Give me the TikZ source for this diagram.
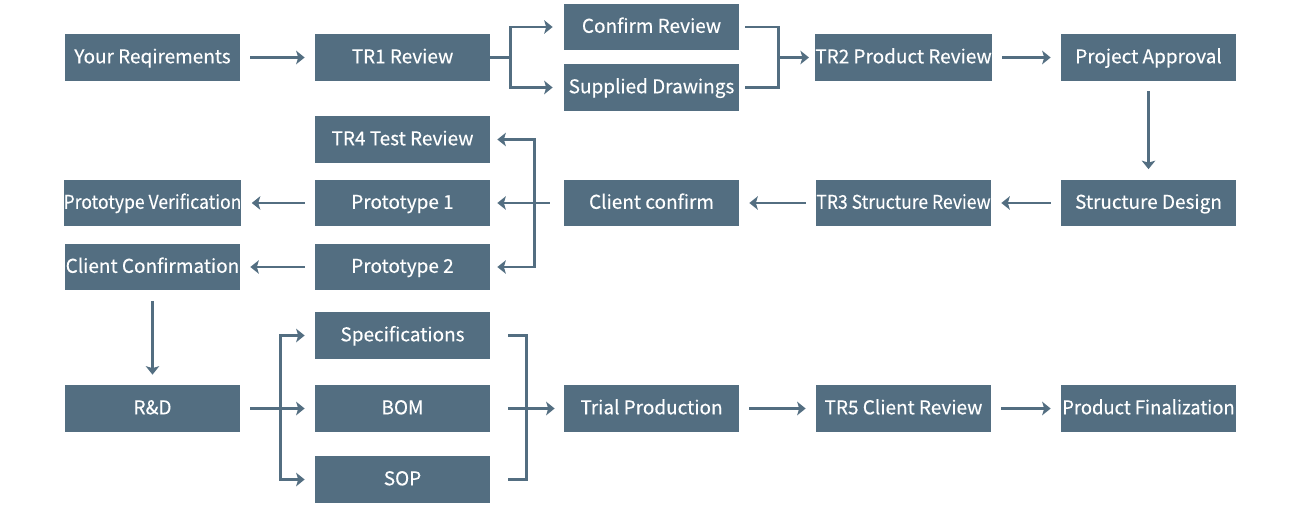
\documentclass[tikz,border=0pt]{standalone}
\usepackage{fontspec}
\setmainfont{Noto Sans CJK SC}[FakeBold=0.3]
\usepackage{xcolor}
\usetikzlibrary{positioning,arrows.meta,calc}
\definecolor{slate}{HTML}{536E81}
\newcommand{\narrow}[2][0.925]{\scalebox{#1}[1]{#2}}

\begin{document}
\begin{tikzpicture}[
  x=0.02cm, y=-0.02cm, font=\fontsize{10.8}{12}\selectfont,
  >={Stealth[length=0.17cm, width=0.27cm, inset=0.04cm]},
  box/.style={fill=slate, text=white, minimum width=3.5cm, minimum height=0.94cm, inner sep=0pt,
    text height=0.66em, text depth=0pt, align=center},
  link/.style={draw=slate, line width=1.7pt},
  arr/.style={link, ->, shorten <=0.2cm, shorten >=0.2cm}]
\useasboundingbox (0,0) rectangle (1300,510);
% boxes
\foreach \n/\x/\y/\t in {req/152.5/57.5/Your Reqirements, tr1/402.5/57.5/TR1 Review,
    conf/651.5/27/Confirm Review, dwg/651.5/87.5/Supplied Drawings,
    tr2/903.5/57.5/TR2 Product Review, appr/1148.5/57.5/Project Approval,
    tr4/402.5/139.5/TR4 Test Review, pver/152.5/203/\narrow{Prototype Verification},
    p1/402.5/203/Prototype 1, cconf/651.5/203/Client confirm,
    tr3/903.5/203/\narrow{TR3 Structure Review}, sdes/1148.5/203/Structure Design,
    cfin/152.5/267/Client Confirmation, p2/402.5/267/Prototype 2,
    spec/402.5/335.5/Specifications, rd/152.5/408.5/R\&D, bom/402.5/408.5/BOM,
    sop/402.5/479.5/SOP, trial/651.5/408.5/Trial Production,
    tr5/903.5/408.5/TR5 Client Review, fin/1148.5/408.5/\narrow[0.97]{Product Finalization}}{
  \node[box] (\n) at (\x,\y) {\t};
}
% top row
\draw[arr] (req) -- (tr1);
\draw[link] (tr1.east) -- ++(20,0) coordinate (s1);
\draw[link, ->, shorten >=0.22cm] (s1) |- (conf.west);
\draw[link, ->, shorten >=0.22cm] (s1) |- (dwg.west);
\coordinate (j1) at ($(tr2.west)+(-36,0)$);
\draw[link, shorten <=0.12cm] (conf.east) -| (j1);
\draw[link, shorten <=0.12cm] (dwg.east) -| (j1);
\draw[link, ->, shorten >=0.12cm] (j1) -- (tr2);
\draw[arr] (tr2) -- (appr);
\draw[arr] (appr) -- (sdes);
% back row
\draw[arr] (sdes) -- (tr3);
\draw[arr] (tr3) -- (cconf);
\draw[link, shorten <=0.28cm] (cconf.west) -- ++(-29,0) coordinate (s2);
\draw[link, ->, shorten >=0.14cm] (s2) |- (tr4.east);
\draw[link, ->, shorten >=0.14cm] (s2) -- (p1.east);
\draw[link, ->, shorten >=0.14cm] (s2) |- (p2.east);
\draw[arr] (p1) -- (pver);
\draw[arr] (p2) -- (cfin);
\draw[arr] (cfin) -- (rd);
% bottom row
\draw[link, shorten <=0.2cm] (rd.east) -- ++(40,0) coordinate (s3);
\draw[link, ->, shorten >=0.2cm] (s3) |- (spec.west);
\draw[link, ->, shorten >=0.2cm] (s3) -- (bom.west);
\draw[link, ->, shorten >=0.2cm] (s3) |- (sop.west);
\coordinate (j2) at ($(bom.east)+(36,0)$);
\draw[link, shorten <=0.36cm] (spec.east) -| (j2);
\draw[link, shorten <=0.36cm] (sop.east) -| (j2);
\draw[link, ->, shorten <=0.36cm, shorten >=0.18cm] (bom) -- (trial);
\draw[arr] (trial) -- (tr5);
\draw[arr] (tr5) -- (fin);
\end{tikzpicture}
\end{document}
